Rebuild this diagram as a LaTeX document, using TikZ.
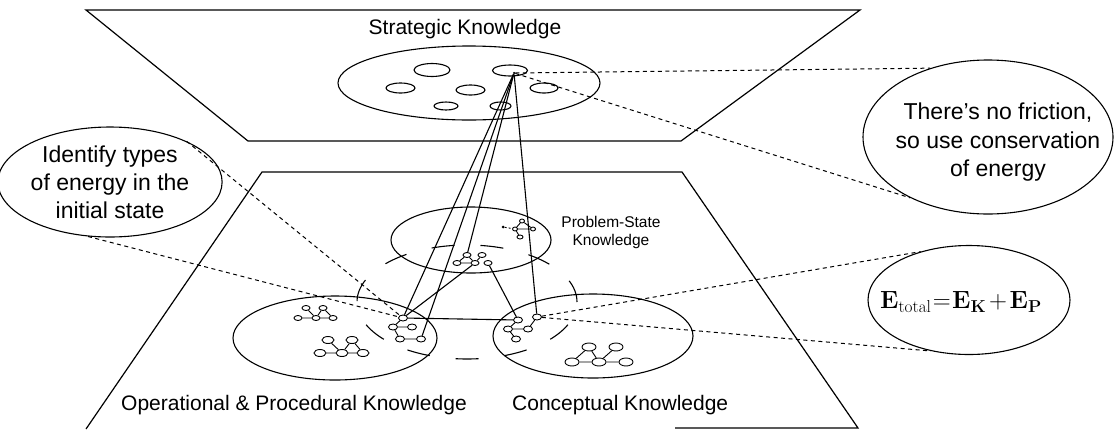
\documentclass[tikz,border=0pt]{standalone}
\usepackage[no-math]{fontspec}
\setmainfont{Liberation Sans}
\usetikzlibrary{shapes.geometric}
\begin{document}
\begin{tikzpicture}[x=1pt,y=-1pt,
  plane/.style={line width=1.2pt, line join=miter},
  blob/.style={draw, ellipse, line width=1.1pt, inner sep=0pt},
  gn/.style={draw, ellipse, fill=white, line width=0.9pt, inner sep=0pt, minimum width=8pt, minimum height=5pt},
  gnm/.style={gn, minimum width=9pt, minimum height=6pt},
  gnb/.style={gn, minimum width=12pt, minimum height=7pt},
  gnl/.style={gn, minimum width=14pt, minimum height=8pt},
  gedge/.style={line width=0.9pt},
  link/.style={line width=1.1pt},
  dotlink/.style={line width=1pt, dash pattern=on 4pt off 3.5pt},
  arcdash/.style={line width=1.1pt, dash pattern=on 23pt off 26pt},
  lbl/.style={font=\fontsize{21}{25}\selectfont, inner sep=0pt},
  callout/.style={font=\fontsize{23}{28}\selectfont, align=center, inner sep=0pt},
]
\useasboundingbox (0,0) rectangle (1118,429);

% planes
\draw[plane] (86,10) -- (860,10) -- (681,141) -- (248,141) -- cycle;
\draw[plane] (86,429) -- (262,172) -- (682,172) -- (858,428) -- (675,428);

% strategic level
\node[blob, minimum width=262pt, minimum height=74pt] (strat) at (469,83) {};
\node[blob, minimum width=36pt, minimum height=13pt] (s1) at (432,70) {};
\node[blob, minimum width=35pt, minimum height=11pt] (s2) at (510,70.5) {};
\node[blob, minimum width=29pt, minimum height=10pt] (s3) at (400.5,88) {};
\node[blob, minimum width=29pt, minimum height=10pt] (s4) at (470.5,90) {};
\node[blob, minimum width=28pt, minimum height=10pt] (s5) at (544,88) {};
\node[blob, minimum width=24pt, minimum height=8pt] (s6) at (446,106) {};
\node[blob, minimum width=21pt, minimum height=8pt] (s7) at (500.5,106) {};
\node[circle, fill, inner sep=0pt, minimum size=2.5pt] (sapex) at (514,73) {};
\node[lbl, anchor=base] (stratLbl) at (465,34) {Strategic Knowledge};

% lower level
\node[blob, minimum width=160pt, minimum height=66pt] (ps) at (471,240) {};
\node[blob, minimum width=204pt, minimum height=84pt] (opk) at (335,338) {};
\node[blob, minimum width=200pt, minimum height=84pt] (con) at (593,336) {};
\draw[arcdash] (467,302) ellipse [x radius=110pt, y radius=57pt];

\node[font=\fontsize{15.5}{18}\selectfont, align=center, inner sep=0pt] (psLbl) at (611,232) {Problem-State\\Knowledge};
\node[lbl, anchor=base] (opkLbl) at (294,410) {Operational \& Procedural Knowledge};
\node[lbl, anchor=base west] (conLbl) at (512,410) {Conceptual Knowledge};

% graph A
\node[gn] (a1) at (298,318) {};
\node[gn] (a2) at (316,318) {};
\node[gn] (a3) at (333,318) {};
\node[gn] (a4) at (306,308) {};
\node[gn] (a5) at (323,308) {};
\draw[gedge] (a1) -- (a2) (a2) -- (a3) (a2) -- (a4) (a2) -- (a5) (a5) -- (a3);
% graph B
\node[gnb] (b1) at (320,353) {};
\node[gnb] (b2) at (342,353) {};
\node[gnb] (b3) at (363,353) {};
\node[gnb] (b4) at (328,340) {};
\node[gnb] (b5) at (352,340) {};
\draw[gedge] (b1) -- (b2) (b2) -- (b3) (b2) -- (b4) (b2) -- (b5) (b5) -- (b3);
% graph C
\node[gnm] (c1) at (403,318) {};
\node[gnm] (c2) at (393,327) {};
\node[gnm] (c3) at (412,327) {};
\node[gnm] (c4) at (400,339) {};
\node[gnm] (c5) at (421,339) {};
\draw[gedge] (c1) -- (c2) (c2) -- (c3) (c2) -- (c4) (c4) -- (c5);
% graph D
\node[gnm] (d1) at (518,320) {};
\node[gnm] (d2) at (508,329) {};
\node[gnm] (d3) at (528,329) {};
\node[gnm] (d4) at (516,339) {};
\node[gnm] (dA) at (537,317) {};
\draw[gedge] (d1) -- (d2) (d2) -- (d3) (d2) -- (d4) (d3) -- (dA);
% graph E
\node[gnl] (e1) at (572,362) {};
\node[gnl] (e2) at (589,347) {};
\node[gnl] (e3) at (599,362) {};
\node[gnl] (e4) at (616,347) {};
\node[gnl] (e5) at (626,362) {};
\draw[gedge] (e1) -- (e3) (e3) -- (e5) (e2) -- (e1) (e2) -- (e3) (e4) -- (e3);
% graph F
\node[circle, fill, inner sep=0pt, minimum size=3pt] (f1) at (503,227) {};
\node[gn, minimum width=5pt, minimum height=4pt] (f2) at (515,229) {};
\node[gn, minimum width=5pt, minimum height=4pt] (f3) at (522,221) {};
\node[gn, minimum width=5pt, minimum height=4pt] (f4) at (533,229) {};
\node[gn, minimum width=6pt, minimum height=4pt] (f5) at (520,237) {};
\draw[gedge, dash pattern=on 2pt off 2pt] (f1) -- (f2);
\draw[gedge] (f2) -- (f3) (f2) -- (f4) (f3) -- (f4) (f2) -- (f5);
% graph G
\node[gn] (g1) at (457,263) {};
\node[gn] (g2) at (467,255) {};
\node[gn] (g3) at (475,263) {};
\node[gn] (g4) at (482,255) {};
\node[gn] (g5) at (488,263) {};
\draw[gedge] (g1) -- (g3) (g2) -- (g1) (g2) -- (g3) (g4) -- (g3);

% solid links
\draw[link] (sapex) -- (c1);
\draw[link] (sapex) -- (c5);
\draw[link] (sapex) -- (g2);
\draw[link] (sapex) -- (dA);
\draw[link] (g3) -- (c1);
\draw[link] (g5) -- (d1);
\draw[link] (c1) -- (d1);

% callouts
\node[blob, callout, minimum width=200pt, minimum height=110pt] (ident) at (110,182) {Identify types\\of energy in the\\initial state};
\node[blob, minimum width=250pt, minimum height=154pt] (fric) at (988,137) {};
\node[callout, font=\fontsize{23}{28.5}\selectfont] (fricText) at (998,142.5) {There's no friction,\\so use conservation\\of energy};
\node[blob, minimum width=202pt, minimum height=109pt] (etot) at (969,300) {};
\node[inner sep=0pt, font=\fontsize{24.5}{30}\selectfont] (etotText) at (961,302) {$\mathbf{E}_{\mathrm{total}}\mkern1mu{=}\mkern1mu\mathbf{E}_{\mathbf{K}}\mkern2mu{+}\mkern2mu\mathbf{E}_{\mathbf{P}}$};

% dashed links
\draw[dotlink] (sapex) -- (fric.130);
\draw[dotlink] (sapex) -- (fric.218);
\draw[dotlink] (ident.28) -- (c1);
\draw[dotlink] (ident.248) -- (c1);
\draw[dotlink] (dA) -- (etot.135);
\draw[dotlink] (dA) -- (etot.233);
\end{tikzpicture}
\end{document}
